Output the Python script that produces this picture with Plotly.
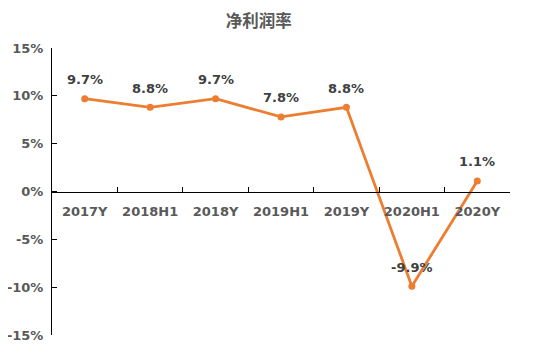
import plotly.graph_objects as go

categories = ["2017Y", "2018H1", "2018Y", "2019H1", "2019Y", "2020H1", "2020Y"]
net_margin = [9.7, 8.8, 9.7, 7.8, 8.8, -9.9, 1.1]
y_ticks = [-15, -10, -5, 0, 5, 10, 15]
y_tick_labels = ["-15%", "-10%", "-5%", "0%", "5%", "10%", "15%"]
title_text = "净利润率"

FONT = "DejaVu Sans, Noto Sans CJK SC, sans-serif"
ORANGE = "#ED7D31"

fig = go.Figure()
fig.add_trace(go.Scatter(
    x=categories, y=net_margin,
    mode="lines+markers",
    line=dict(color=ORANGE, width=2.8),
    marker=dict(color=ORANGE, size=7),
    cliponaxis=False,
    hoverinfo="skip",
))

for c, v in zip(categories, net_margin):
    fig.add_annotation(
        x=c, y=v, text=f"{v:.1f}%", showarrow=False, yshift=19,
        font=dict(family=FONT, size=13, color="#404040", weight="bold"),
    )

# page body adds an 8px offset; margins compensate for it
fig.update_layout(
    width=555, height=356,
    margin=dict(l=44, r=53, t=40, b=29, autoexpand=False),
    paper_bgcolor="white", plot_bgcolor="white",
    showlegend=False,
    title=dict(text=title_text, x=0.452, xanchor="center", y=0.964, yanchor="middle",
               font=dict(family="Noto Sans CJK SC, sans-serif", size=16.5, color="#595959", weight="bold")),
    xaxis=dict(
        type="category", anchor="free", position=0.5, automargin=False,
        showline=True, linecolor="#000000", linewidth=1,
        ticks="inside", ticklen=5, tickcolor="#000000", tickson="boundaries",
        showgrid=False, zeroline=False,
        tickfont=dict(family=FONT, size=13, color="#595959", weight="bold"),
        ticklabelstandoff=8,
        range=[-0.5, 6.5],
    ),
    yaxis=dict(
        range=[-15, 15], tickvals=y_ticks, ticktext=y_tick_labels, automargin=False,
        showline=True, linecolor="#000000", linewidth=1,
        ticks="inside", ticklen=5, tickcolor="#000000",
        showgrid=False, zeroline=False,
        tickfont=dict(family=FONT, size=13, color="#595959", weight="bold"),
        ticklabelstandoff=5,
    ),
)

fig.write_html("out.html")
